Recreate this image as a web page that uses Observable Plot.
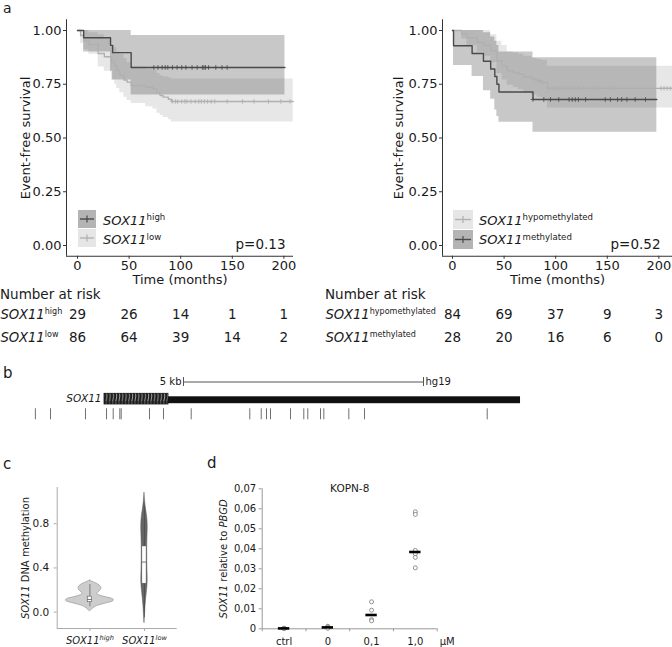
<!DOCTYPE html>
<html>
<head>
<meta charset="utf-8">
<script src="https://cdn.jsdelivr.net/npm/d3@7"></script>
<script src="https://cdn.jsdelivr.net/npm/@observablehq/plot@0.6"></script>
<style>
html,body{margin:0;padding:0;background:#fff;}
#root{position:relative;width:672px;height:647px;overflow:hidden;font-family:"DejaVu Sans",sans-serif;color:#1a1a1a;}
#root svg{overflow:visible;}
.abs{position:absolute;white-space:nowrap;}
.sup{font-size:0.66em;position:relative;top:-0.5em;}
</style>
</head>
<body>
<div id="root"></div>
<svg width="0" height="0" style="position:absolute">
 <defs>
  <pattern id="hatch" patternUnits="userSpaceOnUse" width="3.2" height="12">
   <rect width="3.2" height="12" fill="#1e1e1e"></rect>
   <path d="M0.6,0.5 Q2.4,6 0.6,11.5" stroke="#cfcfcf" stroke-width="0.75" fill="none"></path>
  </pattern>
 </defs>
</svg>
<script>
// ================= DATA =================
// Panel a — shared ticks
const timeTicks = [0, 50, 100, 150, 200];
const survTicks = [0, 0.25, 0.5, 0.75, 1];

// Panel a left: SOX11 high
const highTime  = [0, 6, 32, 34, 52, 201];
const highSurv  = [1, 0.966, 0.931, 0.897, 0.828, 0.828];
const highLower = [1, 0.90, 0.81, 0.77, 0.70, 0.70];
const highUpper = [1, 1, 1, 1, 0.977, 0.977];
const highCensor = [74, 78, 82, 85, 87.5, 92, 96.5, 101, 105, 111, 116, 121, 122.5, 124, 127, 134, 140, 145];

// Panel a left: SOX11 low
const lowTime  = [0, 3, 6, 11, 20, 26, 33, 36, 38, 41, 45, 48, 52, 66, 73, 77, 80, 83, 88, 91, 209];
const lowSurv  = [1, 0.977, 0.953, 0.935, 0.893, 0.878, 0.853, 0.837, 0.814, 0.79, 0.77, 0.76, 0.744, 0.736, 0.729, 0.71, 0.698, 0.69, 0.68, 0.67, 0.67];
const lowLower = [1, 0.94, 0.91, 0.89, 0.83, 0.81, 0.77, 0.75, 0.73, 0.71, 0.69, 0.675, 0.66, 0.645, 0.635, 0.615, 0.605, 0.595, 0.585, 0.574, 0.574];
const lowUpper = [1, 1, 1, 0.99, 0.98, 0.96, 0.93, 0.92, 0.90, 0.89, 0.87, 0.85, 0.83, 0.82, 0.815, 0.80, 0.79, 0.785, 0.78, 0.775, 0.775];
const lowCensor = [92, 95, 97, 101, 104, 106, 110, 114, 117.5, 120, 123, 126, 129.5, 133, 145, 160, 171, 185, 197, 206];

// Panel a right: SOX11 hypomethylated
const hypoTime  = [0, 9, 14, 24, 30, 37, 43, 48, 53, 59, 64, 69, 77, 82, 87, 92, 214];
const hypoSurv  = [1, 0.984, 0.966, 0.945, 0.93, 0.906, 0.859, 0.836, 0.8125, 0.805, 0.797, 0.784, 0.773, 0.766, 0.758, 0.731, 0.731];
const hypoLower = [1, 0.96, 0.93, 0.90, 0.88, 0.85, 0.80, 0.77, 0.745, 0.735, 0.725, 0.71, 0.70, 0.69, 0.68, 0.64, 0.64];
const hypoUpper = [1, 1, 1, 1, 1, 0.98, 0.95, 0.93, 0.90, 0.895, 0.89, 0.88, 0.87, 0.865, 0.86, 0.834, 0.834];
const hypoCensor = [80, 84, 87, 93, 97, 100, 103, 106, 110, 114, 118, 122, 127, 134, 139, 142, 147, 152, 156, 202, 205, 208, 211];

// Panel a right: SOX11 methylated
const methTime  = [0, 1, 19, 30, 37, 41, 43, 45, 78, 198];
const methSurv  = [1, 0.929, 0.893, 0.857, 0.821, 0.786, 0.75, 0.714, 0.679, 0.679];
const methLower = [1, 0.837, 0.786, 0.72, 0.68, 0.63, 0.60, 0.573, 0.527, 0.527];
const methUpper = [1, 1, 1, 0.99, 0.97, 0.95, 0.93, 0.90, 0.873, 0.873];
const methCensor = [78, 88.5, 95, 103, 113, 116, 119, 122, 129, 148, 153, 160, 164, 169, 177, 187];

// Number at risk
const riskTimes = [0, 50, 100, 150, 200];
const riskHigh = [29, 26, 14, 1, 1];
const riskLow  = [86, 64, 39, 14, 2];
const riskHypo = [84, 69, 37, 9, 3];
const riskMeth = [28, 20, 16, 6, 0];
const pLeft = "p=0.13";
const pRight = "p=0.52";

// Panel b — SOX11 locus (kb relative to gene start)
const geneName = "SOX11";
const geneStartKb = 0;
const exonEndKb = 1.333;
const geneEndKb = 8.667;
const scaleBarStartKb = 1.646;
const scaleBarLengthKb = 5;
const probeKb = [-1.44, -1.125, -0.396, 0.042, 0.181, 0.319, 0.348, 0.9375, 1.229, 1.806, 3.027, 3.265, 3.375, 3.458, 3.875, 4.152, 4.235, 4.5, 4.569, 5.09, 5.417, 7.973];

// Panel c — violin profiles (value, relative density)
const violinGroups = ["high", "low"];
const violinHighValue   = [0.285, 0.27, 0.25, 0.225, 0.20, 0.175, 0.16, 0.14, 0.125, 0.11, 0.095, 0.08, 0.06, 0.04, 0.02, 0.005];
const violinHighDensity = [0, 4, 9, 12, 11.5, 8, 7, 13, 22, 25, 24, 17, 8, 4, 1.5, 0];
const violinLowValue    = [1.077, 1.0, 0.93, 0.87, 0.8, 0.72, 0.65, 0.55, 0.45, 0.35, 0.28, 0.2, 0.12, 0.05, -0.03, -0.1];
const violinLowDensity  = [0, 0.6, 1.6, 2.7, 3.4, 3.2, 2.9, 2.7, 2.8, 3.1, 3.4, 2.7, 1.6, 1.0, 0.5, 0];
const boxQ1  = [0.09, 0.257];
const boxMed = [0.115, 0.453];
const boxQ3  = [0.14, 0.595];
const whiskLo = [0.05, -0.05];
const whiskHi = [0.25, 0.95];
const methTicks = [0, 0.4, 0.8];

// Panel d — KOPN-8 SOX11 expression
const doseLabels = ["ctrl", "0", "0,1", "1,0"];
const doseCtrl = [0.0002, 0.0001, 0.0003, 0.0002];
const dose0    = [0.0013, 0.0009, 0.0004, 0.0003];
const dose01   = [0.0135, 0.0093, 0.0046, 0.0040];
const dose10   = [0.0585, 0.0572, 0.0392, 0.0375, 0.0357, 0.0305];
const doseMedian = [0.0002, 0.0007, 0.0069, 0.0384];
const exprTicks = [0, 0.01, 0.02, 0.03, 0.04, 0.05, 0.06, 0.07];

// ================= HELPERS =================
const root = document.getElementById("root");
const DARK = "#4a4a4a", LIGHT = "#b0b0b0";
const STYLE = {fontFamily: '"DejaVu Sans", sans-serif', fontSize: "13px", color: "#1a1a1a", background: "transparent", overflow: "visible"};

function place(el, left, top) {
  el.style.position = "absolute";
  el.style.left = left + "px";
  el.style.top = top + "px";
  root.appendChild(el);
  return el;
}
function htext(html, left, yc, size, extra = {}) {
  const d = document.createElement("div");
  d.className = "abs";
  d.innerHTML = html;
  d.style.fontSize = size + "px";
  d.style.lineHeight = size + "px";
  d.style.left = left + "px";
  d.style.top = Math.max(0, yc - 0.48 * size) + "px";
  Object.assign(d.style, extra);
  root.appendChild(d);
  return d;
}
const itS = s => `<tspan font-style="italic">${s}</tspan>`;
const supS = (s, px, italic = false, k = 0.66) => `<tspan dy="${-0.42 * px}" font-size="${k * px}"${italic ? ' font-style="italic"' : ""}>${s}</tspan>`;
function rich(svg, map) {
  svg.querySelectorAll("text").forEach(t => {
    const k = t.textContent;
    if (map[k] !== undefined) t.innerHTML = map[k];
  });
}
const plusSymbol = {
  draw(ctx, size) {
    const r = Math.sqrt(size) / 1.8;
    ctx.moveTo(-r, 0); ctx.lineTo(r, 0);
    ctx.moveTo(0, -r); ctx.lineTo(0, r);
  }
};
function stepAt(times, vals, t) {
  const i = d3.bisectRight(times, t) - 1;
  return vals[Math.max(0, i)];
}
function series(time, surv, lower, upper, censor, color) {
  return {
    rows: time.map((t, i) => ({t, s: surv[i], lo: lower[i], hi: upper[i]})),
    cens: censor.map(t => ({t, s: stepAt(time, surv, t)})),
    color
  };
}

// ================= PANEL a =================
const yDomain = [-0.05, 1.05];
function kmPlot({domain, marginLeft, marginRight, groups, labelDx, pText, pDx}) {
  const marks = [];
  for (const g of groups) marks.push(Plot.areaY(g.rows, {x: "t", y1: "lo", y2: "hi", curve: "step-after", fill: g.color, fillOpacity: 0.3}));
  for (const g of groups) {
    marks.push(Plot.line(g.rows, {x: "t", y: "s", curve: "step-after", stroke: g.color, strokeWidth: 1.4}));
    marks.push(Plot.dot(g.cens, {x: "t", y: "s", symbol: plusSymbol, r: 2.3, stroke: g.color, strokeWidth: 0.9, fill: "none"}));
  }
  marks.push(Plot.ruleX([domain[0]], {stroke: "#333"}));
  marks.push(Plot.ruleY([yDomain[0]], {stroke: "#333"}));
  marks.push(Plot.axisX(timeTicks, {tickSize: 3, tickPadding: 2, stroke: "#333", label: null}));
  marks.push(Plot.axisY(survTicks, {tickSize: 3, tickPadding: 2, tickFormat: d3.format(".2f"), stroke: "#333", label: null}));
  marks.push(Plot.text(["Event-free survival"], {frameAnchor: "left", rotate: -90, dx: labelDx, textAnchor: "middle", lineAnchor: "middle", text: d => d}));
  marks.push(Plot.text(["Time (months)"], {frameAnchor: "bottom", dy: 24, textAnchor: "middle", lineAnchor: "middle", text: d => d}));
  marks.push(Plot.text([pText], {frameAnchor: "bottom-right", dx: pDx, dy: -12, textAnchor: "end", lineAnchor: "middle", text: d => d, fontSize: 13.5}));
  return Plot.plot({
    width: 300, height: 290, marginLeft, marginRight, marginTop: 19.25, marginBottom: 34.25,
    x: {domain}, y: {domain: yDomain}, style: STYLE, marks
  });
}
const domL = [-10.66, 209.3], domR = [-9.69, 213.2];
const kmL = kmPlot({
  domain: domL, marginLeft: 66, marginRight: 7, labelDx: -41, pText: pLeft, pDx: -8,
  groups: [series(lowTime, lowSurv, lowLower, lowUpper, lowCensor, LIGHT), series(highTime, highSurv, highLower, highUpper, highCensor, DARK)]
});
place(kmL, 0, 0);
const kmR = kmPlot({
  domain: domR, marginLeft: 70, marginRight: 0, labelDx: -44, pText: pRight, pDx: -12,
  groups: [series(hypoTime, hypoSurv, hypoLower, hypoUpper, hypoCensor, LIGHT), series(methTime, methSurv, methLower, methUpper, methCensor, DARK)]
});
place(kmR, 372, 0);

// Risk tables
function riskPlot({domain, marginLeft, marginRight, rows, labels, labelDx}) {
  const data = [];
  rows.forEach((vals, r) => vals.forEach((n, i) => data.push({t: riskTimes[i], row: labels[r], n})));
  const svg = Plot.plot({
    width: 300, height: 47, marginLeft, marginRight, marginTop: 0, marginBottom: 0,
    x: {domain, axis: null}, y: {type: "band", domain: labels, axis: null, padding: 0},
    style: STYLE,
    marks: [
      Plot.text(data, {x: "t", y: "row", text: d => String(d.n), fontSize: 13.5}),
      Plot.text(labels, {y: d => d, frameAnchor: "left", dx: labelDx, textAnchor: "start", lineAnchor: "middle", text: d => d, fontSize: 13.2})
    ]
  });
  const map = {};
  labels.forEach(l => { const [a, b] = l.split("|"); map[l] = itS(a) + supS(b, 13.2, false, 0.61); });
  rich(svg, map);
  return svg;
}
place(riskPlot({domain: domL, marginLeft: 66, marginRight: 7, rows: [riskHigh, riskLow], labels: ["SOX11|high", "SOX11|low"], labelDx: -66}), 0, 301.5);
place(riskPlot({domain: domR, marginLeft: 70, marginRight: 0, rows: [riskHypo, riskMeth], labels: ["SOX11|hypomethylated", "SOX11|methylated"], labelDx: -117}), 372, 301.5);
htext("Number at risk", 0, 294, 13.5);
htext("Number at risk", 325, 294, 13.5);

// Legends
function legendKey(left, top, w, h, bg, line) {
  const d = document.createElement("div");
  d.className = "abs";
  Object.assign(d.style, {left: left + "px", top: top + "px", width: w + "px", height: h + "px", background: bg});
  d.innerHTML = `<svg width="${w}" height="${h}"><line x1="2" x2="${w - 2}" y1="${h / 2}" y2="${h / 2}" stroke="${line}" stroke-width="1.4"/><line x1="${w / 2}" x2="${w / 2}" y1="${h / 2 - 3.5}" y2="${h / 2 + 3.5}" stroke="${line}" stroke-width="1.2"/></svg>`;
  root.appendChild(d);
}
legendKey(78, 210, 18, 18, "#b4b4b4", DARK);
legendKey(78, 229, 18, 18, "#e6e6e6", LIGHT);
htext('<i>SOX11</i><span class="sup">high</span>', 103, 220, 13);
htext('<i>SOX11</i><span class="sup">low</span>', 103, 239.5, 13);
legendKey(453, 210, 20, 19, "#e6e6e6", LIGHT);
legendKey(453, 230, 20, 19, "#b4b4b4", DARK);
htext('<i>SOX11</i><span class="sup">hypomethylated</span>', 479, 220, 13);
htext('<i>SOX11</i><span class="sup">methylated</span>', 479, 239.5, 13);

// Panel letters
htext("a", 3, 0, 14, {top: "0px", lineHeight: "16px"});
htext("b", 3, 373, 15);
htext("c", 3, 464, 15);
htext("d", 207, 463, 15);

// ================= PANEL b =================
const bPlot = Plot.plot({
  width: 672, height: 60, margin: 0,
  x: {domain: [-2.1667, 11.8333], axis: null},
  y: {type: "band", domain: ["scale", "gene", "probes"], range: [7, 58], padding: 0, axis: null},
  style: {...STYLE, fontSize: "10px"},
  marks: [
    Plot.ruleY([0], {y: () => "scale", x1: () => scaleBarStartKb, x2: () => scaleBarStartKb + scaleBarLengthKb, stroke: "#555"}),
    Plot.tickX([scaleBarStartKb, scaleBarStartKb + scaleBarLengthKb], {x: d => d, y: () => "scale", insetTop: 4, insetBottom: 4, stroke: "#555"}),
    Plot.text(["5 kb"], {x: () => scaleBarStartKb, y: () => "scale", text: d => d, textAnchor: "end", dx: -2}),
    Plot.text(["hg19"], {x: () => scaleBarStartKb + scaleBarLengthKb, y: () => "scale", text: d => d, textAnchor: "start", dx: 2}),
    Plot.barX([0], {x1: () => geneStartKb, x2: () => geneEndKb, y: () => "gene", insetTop: 6.3, insetBottom: 3.8, fill: "#111"}),
    Plot.barX([0], {x1: () => geneStartKb, x2: () => exonEndKb, y: () => "gene", insetTop: 3.3, insetBottom: 3, fill: "url(#hatch)", stroke: "#111", strokeWidth: 0.8}),
    Plot.text([geneName], {x: () => geneStartKb, y: () => "gene", text: d => d, textAnchor: "end", dx: -3, fontStyle: "italic", fontSize: 10.5}),
    Plot.tickX(probeKb, {x: d => d, y: () => "probes", stroke: "#707070", insetTop: 1.3, insetBottom: 4.7})
  ]
});
place(bPlot, 0, 366);

// ================= PANEL c =================
const vPos = [1, 2];
const hwScale = 0.45 / d3.max(violinHighDensity);
const vHigh = violinHighValue.map((v, i) => ({v, w: violinHighDensity[i] * hwScale, p: vPos[0]}));
const vLow = violinLowValue.map((v, i) => ({v, w: violinLowDensity[i] * hwScale, p: vPos[1]}));
const boxes = violinGroups.map((g, i) => ({p: vPos[i], q1: boxQ1[i], med: boxMed[i], q3: boxQ3[i], lo: whiskLo[i], hi: whiskHi[i]}));
const boxHalf = 0.04;
const cDom = [0.4, 2.6], cYDom = [-0.148, 1.128];
const cPlot = Plot.plot({
  width: 200, height: 177, marginLeft: 56.7, marginRight: 23.3, marginTop: 17, marginBottom: 19,
  x: {domain: cDom}, y: {domain: cYDom},
  style: {...STYLE, fontSize: "10.5px"},
  marks: [
    Plot.areaX(vHigh, {y: "v", x1: d => d.p - d.w, x2: d => d.p + d.w, curve: "basis", fill: "#cdcdcd", stroke: "#9a9a9a", strokeWidth: 0.7}),
    Plot.areaX(vLow, {y: "v", x1: d => d.p - d.w, x2: d => d.p + d.w, curve: "basis", fill: "#666", stroke: "#555", strokeWidth: 0.5}),
    Plot.ruleX(boxes, {x: "p", y1: "lo", y2: "q1", stroke: "#444", strokeWidth: 0.6}),
    Plot.ruleX(boxes, {x: "p", y1: "q3", y2: "hi", stroke: "#444", strokeWidth: 0.6}),
    Plot.rect(boxes, {x1: d => d.p - boxHalf, x2: d => d.p + boxHalf, y1: "q1", y2: "q3", fill: "white", stroke: "#555", strokeWidth: 0.6}),
    Plot.ruleY(boxes, {y: "med", x1: d => d.p - boxHalf, x2: d => d.p + boxHalf, stroke: "#555", strokeWidth: 0.8}),
    Plot.ruleX([cDom[0]], {stroke: "#aaa"}),
    Plot.ruleY([cYDom[0]], {stroke: "#aaa"}),
    Plot.axisY(methTicks, {tickSize: 3, tickPadding: 5, tickFormat: d3.format(".1f"), stroke: "#aaa", label: null}),
    Plot.axisX(vPos, {tickSize: 3, tickFormat: () => "", stroke: "#aaa", label: null}),
    Plot.text(["SOX11 DNA methylation"], {frameAnchor: "left", rotate: -90, dx: -31.7, textAnchor: "middle", lineAnchor: "middle", text: d => d, fontSize: 10}),
    Plot.text(["SOX11|high", "SOX11|low"], {x: (d, i) => vPos[i], frameAnchor: "bottom", dy: 12.7, lineAnchor: "middle", text: d => d, fontSize: 10})
  ]
});
rich(cPlot, {
  "SOX11 DNA methylation": itS("SOX11") + " DNA methylation",
  "SOX11|high": itS("SOX11") + supS("high", 10, true),
  "SOX11|low": itS("SOX11") + supS("low", 10, true)
});
place(cPlot, 0, 470);

// ================= PANEL d =================
const doseSets = [doseCtrl, dose0, dose01, dose10];
const pts = [];
doseSets.forEach((vals, i) => vals.forEach(v => pts.push({i, v})));
const meds = doseMedian.map((v, i) => ({i, v}));
const bounds = doseLabels.map((_, i) => i).concat([doseLabels.length]);
const medHalf = 0.13;
const dPlot = Plot.plot({
  width: 260, height: 177, marginLeft: 61.7, marginRight: 23.3, marginTop: 18.3, marginBottom: 18.7,
  x: {domain: [0, doseLabels.length]}, y: {domain: [0, 0.07]},
  style: {...STYLE, fontSize: "10px"},
  marks: [
    Plot.ruleX([0], {stroke: "#999"}),
    Plot.ruleY([0], {stroke: "#999"}),
    Plot.axisY(exprTicks, {tickSize: 3, tickPadding: 3, stroke: "#999", tickFormat: d => d === 0 ? "0" : d.toFixed(2).replace(".", ","), label: null}),
    Plot.axisX(bounds, {tickSize: 3, tickFormat: () => "", stroke: "#999", label: null}),
    Plot.dot(pts, {x: d => d.i + 0.5, y: "v", r: 2, stroke: "#777", strokeWidth: 0.8, fill: "white"}),
    Plot.ruleY(meds, {y: "v", x1: d => d.i + 0.5 - medHalf, x2: d => d.i + 0.5 + medHalf, stroke: "#000", strokeWidth: 2.6}),
    Plot.text(doseLabels, {x: (d, i) => i + 0.5, frameAnchor: "bottom", dy: 13.4, lineAnchor: "middle", text: d => d}),
    Plot.text(["µM"], {frameAnchor: "bottom-right", dx: 10, dy: 13.4, textAnchor: "middle", lineAnchor: "middle", text: d => d}),
    Plot.text(["KOPN-8"], {frameAnchor: "top", lineAnchor: "middle", text: d => d, fontSize: 10.5}),
    Plot.text(["SOX11 relative to PBGD"], {frameAnchor: "left", rotate: -90, dx: -38.7, textAnchor: "middle", lineAnchor: "middle", text: d => d, fontSize: 10})
  ]
});
rich(dPlot, {"SOX11 relative to PBGD": itS("SOX11") + " relative to " + itS("PBGD")});
place(dPlot, 200, 470);
</script>
</body>
</html>
